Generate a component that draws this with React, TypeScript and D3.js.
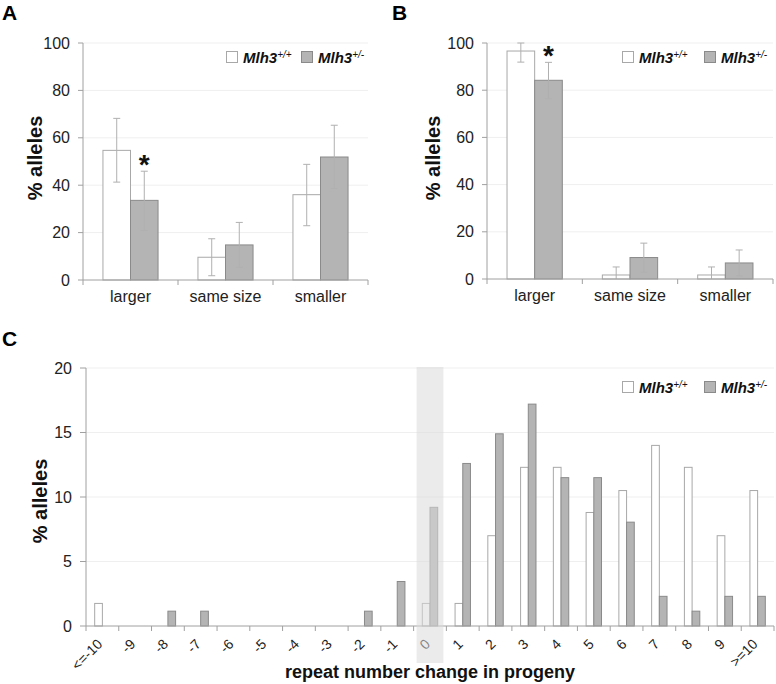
import React from "react";
import * as d3 from "d3";

const categoriesAB = ["larger", "same size", "smaller"];
const wtA = [54.7, 9.6, 36.0];
const wtALow = [41.3, 1.8, 22.9];
const wtAHigh = [68.2, 17.4, 48.8];
const hetA = [33.6, 14.8, 51.9];
const hetALow = [20.9, 5.4, 38.6];
const hetAHigh = [45.9, 24.3, 65.3];

const wtB = [96.6, 1.7, 1.7];
const wtBLow = [91.9, 0, 0];
const wtBHigh = [100, 5.1, 5.1];
const hetB = [84.2, 9.1, 6.8];
const hetBLow = [76.4, 2.9, 1.3];
const hetBHigh = [91.8, 15.2, 12.3];

const yTicksAB = [0, 20, 40, 60, 80, 100];
const yTicksC = [0, 5, 10, 15, 20];

const categoriesC = ["<=-10", "-9", "-8", "-7", "-6", "-5", "-4", "-3", "-2", "-1", "0", "1", "2", "3", "4", "5", "6", "7", "8", "9", ">=10"];
const wtC = [1.75, 0, 0, 0, 0, 0, 0, 0, 0, 0, 1.75, 1.75, 7.0, 12.3, 12.3, 8.8, 10.5, 14.0, 12.3, 7.0, 10.5];
const hetC = [0, 0, 1.15, 1.15, 0, 0, 0, 0, 1.15, 3.45, 9.2, 12.6, 14.9, 17.2, 11.5, 11.5, 8.05, 2.3, 1.15, 2.3, 2.3];
const highlightCategory = "0";

const FONT = "'Liberation Sans', Arial, Helvetica, sans-serif";
const WT_FILL = "#ffffff";
const WT_STROKE = "#a8a8a8";
const HET_FILL = "#b4b4b4";
const HET_STROKE = "#8a8a8a";
const AXIS = "#a0a0a0";
const GRID = "#efefef";
const ERR = "#b0b0b0";

function Legend({ x, y, gap }: { x: number; y: number; gap: number }) {
  const items = [
    { fill: WT_FILL, stroke: WT_STROKE, sup: "+/+" },
    { fill: HET_FILL, stroke: HET_STROKE, sup: "+/-" },
  ];
  return (
    <g>
      {items.map((it, i) => (
        <g key={i} transform={`translate(${x + i * gap},${y})`}>
          <rect x={0.5} y={-11.5} width={11} height={11} fill={it.fill} stroke={it.stroke} />
          <text x={17} y={0} fontFamily={FONT} fontSize={15} fontWeight="bold" fontStyle="italic" fill="#111">
            Mlh3
            <tspan fontSize={10} dy={-5} fontWeight="normal">{it.sup}</tspan>
          </text>
        </g>
      ))}
    </g>
  );
}

type PanelProps = {
  label: string;
  labelX: number;
  x0: number;
  x1: number;
  yTop: number;
  yBottom: number;
  wt: number[];
  wtLow: number[];
  wtHigh: number[];
  het: number[];
  hetLow: number[];
  hetHigh: number[];
  titleX: number;
  legendX: number;
  legendGap: number;
};

function PanelAB(p: PanelProps) {
  const x = d3.scaleBand<string>().domain(categoriesAB).range([p.x0, p.x1]).padding(0);
  const y = d3.scaleLinear().domain([0, 100]).range([p.yBottom, p.yTop]);
  const step = x.step();
  const bw = step * 0.29;
  const capW = 7;
  const series = [
    { vals: p.wt, lo: p.wtLow, hi: p.wtHigh, fill: WT_FILL, stroke: WT_STROKE, off: -bw },
    { vals: p.het, lo: p.hetLow, hi: p.hetHigh, fill: HET_FILL, stroke: HET_STROKE, off: 0 },
  ];
  const starX = (x(categoriesAB[0]) as number) + step / 2 + bw / 2;
  return (
    <g>
      <text x={p.labelX} y={20} fontFamily={FONT} fontSize={21} fontWeight="bold">{p.label}</text>
      {yTicksAB.map((t) => (
        <g key={t}>
          {t > 0 && <line x1={p.x0} x2={p.x1} y1={y(t)} y2={y(t)} stroke={GRID} />}
          <line x1={p.x0 - 5} x2={p.x0} y1={y(t)} y2={y(t)} stroke={AXIS} />
          <text x={p.x0 - 13} y={y(t)} dy="0.35em" textAnchor="end" fontFamily={FONT} fontSize={16} fill="#222">{t}</text>
        </g>
      ))}
      <text transform={`translate(${p.titleX},158) rotate(-90)`} textAnchor="middle" fontFamily={FONT} fontSize={20} fontWeight="bold" fill="#111">% alleles</text>
      {series.map((s, si) =>
        categoriesAB.map((c, i) => {
          const bx = (x(c) as number) + step / 2 + s.off;
          return (
            <rect key={`${si}-${i}`} x={bx} y={y(s.vals[i])} width={bw} height={y(0) - y(s.vals[i])} fill={s.fill} stroke={s.stroke} />
          );
        })
      )}
      {series.map((s, si) =>
        categoriesAB.map((c, i) => {
          const mx = (x(c) as number) + step / 2 + s.off + bw / 2;
          return (
            <g key={`e${si}-${i}`} stroke={ERR} strokeWidth={1}>
              <line x1={mx} x2={mx} y1={y(s.lo[i])} y2={y(s.hi[i])} />
              <line x1={mx - capW / 2} x2={mx + capW / 2} y1={y(s.hi[i])} y2={y(s.hi[i])} />
              {s.lo[i] > 0 && <line x1={mx - capW / 2} x2={mx + capW / 2} y1={y(s.lo[i])} y2={y(s.lo[i])} />}
            </g>
          );
        })
      )}
      <line x1={p.x0} x2={p.x0} y1={p.yTop} y2={p.yBottom} stroke={AXIS} />
      <line x1={p.x0} x2={p.x1} y1={p.yBottom} y2={p.yBottom} stroke={AXIS} />
      {categoriesAB.map((c, i) => (
        <g key={c}>
          <line x1={(x(c) as number) + step} x2={(x(c) as number) + step} y1={p.yBottom} y2={p.yBottom + 5} stroke={AXIS} />
          {i === 0 && <line x1={p.x0} x2={p.x0} y1={p.yBottom} y2={p.yBottom + 5} stroke={AXIS} />}
          <text x={(x(c) as number) + step / 2} y={p.yBottom + 22} textAnchor="middle" fontFamily={FONT} fontSize={16} fill="#222">{c}</text>
        </g>
      ))}
      <text x={starX} y={y(p.hetHigh[0]) + 3} textAnchor="middle" fontFamily={FONT} fontSize={28} fontWeight="bold" fill="#111">*</text>
      <Legend x={p.legendX} y={63} gap={p.legendGap} />
    </g>
  );
}

function PanelC() {
  const x0 = 86, x1 = 774, yTop = 368, yBottom = 626;
  const x = d3.scaleBand<string>().domain(categoriesC).range([x0, x1]).padding(0);
  const y = d3.scaleLinear().domain([0, 20]).range([yBottom, yTop]);
  const step = x.step();
  const bw = step * 0.235;
  const hx = x(highlightCategory) as number;
  return (
    <g>
      <text x={2} y={346} fontFamily={FONT} fontSize={21} fontWeight="bold">C</text>
      {yTicksC.map((t) => (
        <g key={t}>
          {t > 0 && <line x1={x0} x2={x1} y1={y(t)} y2={y(t)} stroke={GRID} />}
          <line x1={x0 - 6} x2={x0} y1={y(t)} y2={y(t)} stroke={AXIS} />
          <text x={x0 - 14} y={y(t)} dy="0.35em" textAnchor="end" fontFamily={FONT} fontSize={16} fill="#222">{t}</text>
        </g>
      ))}
      <text transform={`translate(47,501) rotate(-90)`} textAnchor="middle" fontFamily={FONT} fontSize={20} fontWeight="bold" fill="#111">% alleles</text>
      {categoriesC.map((c, i) => {
        const cx = (x(c) as number) + step / 2;
        return (
          <g key={c}>
            {wtC[i] > 0 && <rect x={cx - bw} y={y(wtC[i])} width={bw} height={y(0) - y(wtC[i])} fill={WT_FILL} stroke={WT_STROKE} />}
            {hetC[i] > 0 && <rect x={cx} y={y(hetC[i])} width={bw} height={y(0) - y(hetC[i])} fill={HET_FILL} stroke={HET_STROKE} />}
          </g>
        );
      })}
      <line x1={x0} x2={x0} y1={yTop} y2={yBottom} stroke={AXIS} />
      <line x1={x0} x2={x1} y1={yBottom} y2={yBottom} stroke={AXIS} />
      {categoriesC.map((c, i) => {
        const cx = (x(c) as number) + step / 2;
        return (
          <g key={c}>
            <line x1={(x(c) as number) + step} x2={(x(c) as number) + step} y1={yBottom} y2={yBottom + 5} stroke={AXIS} />
            {i === 0 && <line x1={x0} x2={x0} y1={yBottom} y2={yBottom + 5} stroke={AXIS} />}
            <text transform={`translate(${cx + 1},${yBottom + 19}) rotate(-45)`} textAnchor="end" fontFamily={FONT} fontSize={14} fill="#222">{c}</text>
          </g>
        );
      })}
      <rect x={hx + 3} y={yTop - 1} width={step - 6} height={663 - yTop + 1} fill="rgb(218,218,218)" fillOpacity={0.54} />
      <text x={(x0 + x1) / 2} y={678} textAnchor="middle" fontFamily={FONT} fontSize={18} fontWeight="bold" fill="#111">repeat number change in progeny</text>
      <Legend x={622} y={393} gap={82} />
    </g>
  );
}

export default function App() {
  return (
    <svg width={776} height={684} style={{ position: "absolute", left: 0, top: 0, background: "#fff" }}>
      <rect width={776} height={684} fill="#fff" />
      <PanelAB label="A" labelX={2} x0={83} x1={368} yTop={43} yBottom={280} wt={wtA} wtLow={wtALow} wtHigh={wtAHigh} het={hetA} hetLow={hetALow} hetHigh={hetAHigh} titleX={42} legendX={226} legendGap={75} />
      <PanelAB label="B" labelX={392} x0={487} x1={773} yTop={43} yBottom={279} wt={wtB} wtLow={wtBLow} wtHigh={wtBHigh} het={hetB} hetLow={hetBLow} hetHigh={hetBHigh} titleX={440} legendX={622} legendGap={82} />
      <PanelC />
    </svg>
  );
}
